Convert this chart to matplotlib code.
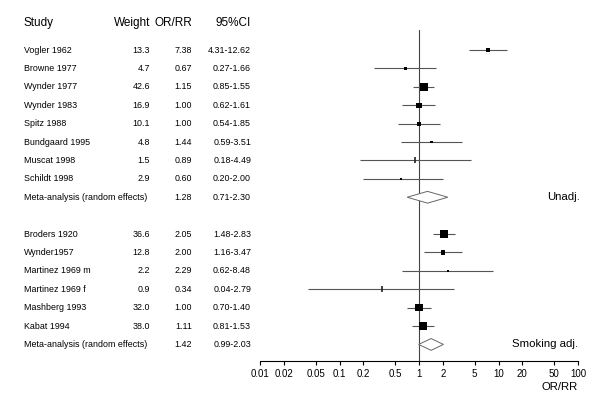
import matplotlib
matplotlib.use("Agg")
import matplotlib.pyplot as plt
from matplotlib.patches import Polygon
from matplotlib.transforms import blended_transform_factory

plt.rcParams["font.family"] = ["Liberation Sans", "DejaVu Sans"]

# ── Data ─────────────────────────────────────────────────────────────────────
studies = ["Vogler 1962", "Browne 1977", "Wynder 1977", "Wynder 1983", "Spitz 1988",
           "Bundgaard 1995", "Muscat 1998", "Schildt 1998",
           "Broders 1920", "Wynder1957", "Martinez 1969 m", "Martinez 1969 f",
           "Mashberg 1993", "Kabat 1994"]
rows = [0, 1, 2, 3, 4, 5, 6, 7, 10, 11, 12, 13, 14, 15]
weights = [13.3, 4.7, 42.6, 16.9, 10.1, 4.8, 1.5, 2.9, 36.6, 12.8, 2.2, 0.9, 32.0, 38.0]
est = [7.38, 0.67, 1.15, 1.00, 1.00, 1.44, 0.89, 0.60, 2.05, 2.00, 2.29, 0.34, 1.00, 1.11]
lo = [4.31, 0.27, 0.85, 0.62, 0.54, 0.59, 0.18, 0.20, 1.48, 1.16, 0.62, 0.04, 0.70, 0.81]
hi = [12.62, 1.66, 1.55, 1.61, 1.85, 3.51, 4.49, 2.00, 2.83, 3.47, 8.48, 2.79, 1.40, 1.53]

meta_rows = [8, 16]
meta_est = [1.28, 1.42]
meta_lo = [0.71, 0.99]
meta_hi = [2.30, 2.03]
meta_tags = ["Unadj.", "Smoking adj."]

xticks = [0.01, 0.02, 0.05, 0.1, 0.2, 0.5, 1, 2, 5, 10, 20, 50, 100]
xtick_labels = ["0.01", "0.02", "0.05", "0.1", "0.2", "0.5", "1", "2", "5", "10", "20", "50", "100"]

# ── Figure ───────────────────────────────────────────────────────────────────
fig = plt.figure(figsize=(6, 4), dpi=100)
ax = fig.add_axes([260 / 600, 39 / 400, 318 / 600, 331 / 400])
ax.set_xscale("log")
ax.set_xlim(0.01, 100)
ax.set_ylim(16.9, -1.09)

for s in ["top", "right", "left"]:
    ax.spines[s].set_visible(False)
ax.spines["bottom"].set_linewidth(0.8)
ax.set_yticks([])
ax.set_xticks(xticks)
ax.set_xticklabels(xtick_labels, fontsize=7)
ax.minorticks_off()
ax.tick_params(axis="x", length=3, width=0.8, pad=3)
ax.set_xlabel("OR/RR", fontsize=8.2, loc="right", labelpad=2)

ax.axvline(1, color="#444444", lw=0.8, zorder=1)

# confidence intervals and weighted squares (tiny weights drawn as a tick)
ax.hlines(rows, lo, hi, color="#555555", lw=0.8, zorder=2)
big = [i for i, w in enumerate(weights) if w >= 2]
tiny = [i for i, w in enumerate(weights) if w < 2]
ax.scatter([est[i] for i in big], [rows[i] for i in big],
           s=[0.85 * weights[i] for i in big], marker="s", color="black",
           linewidths=0, zorder=3)
ax.scatter([est[i] for i in tiny], [rows[i] for i in tiny], s=14, marker="|",
           color="#222222", linewidths=1.2, zorder=3)

# meta-analysis diamonds
h = 0.32
for r, e, l, u in zip(meta_rows, meta_est, meta_lo, meta_hi):
    ax.add_patch(Polygon([(l, r), (e, r - h), (u, r), (e, r + h)], closed=True,
                         facecolor="white", edgecolor="#666666", lw=0.7, zorder=3))

tr = blended_transform_factory(fig.transFigure, ax.transData)
ax.text(547 / 600, meta_rows[0], meta_tags[0], transform=tr,
        fontsize=8.2, ha="left", va="center")
ax.text(578 / 600, meta_rows[1], meta_tags[1], transform=tr,
        fontsize=8.2, ha="right", va="center")

# ── Table columns ────────────────────────────────────────────────────────────
x_study, x_w, x_or, x_ci = 24 / 600, 150 / 600, 192 / 600, 251 / 600
hdr_y = -1.47
fs = 6.4
for x, t, ha in [(x_study, "Study", "left"), (x_w, "Weight", "right"),
                 (x_or, "OR/RR", "right"), (x_ci, "95%CI", "right")]:
    ax.text(x, hdr_y, t, transform=tr, fontsize=8.5, ha=ha, va="center", clip_on=False)

for name, r, w, e, l, u in zip(studies, rows, weights, est, lo, hi):
    ax.text(x_study, r, name, transform=tr, fontsize=fs, ha="left", va="center")
    ax.text(x_w, r, f"{w:.1f}", transform=tr, fontsize=fs, ha="right", va="center")
    ax.text(x_or, r, f"{e:.2f}", transform=tr, fontsize=fs, ha="right", va="center")
    ax.text(x_ci, r, f"{l:.2f}-{u:.2f}", transform=tr, fontsize=fs, ha="right", va="center")

for r, e, l, u in zip(meta_rows, meta_est, meta_lo, meta_hi):
    ax.text(x_study, r, "Meta-analysis (random effects)", transform=tr, fontsize=fs,
            ha="left", va="center")
    ax.text(x_or, r, f"{e:.2f}", transform=tr, fontsize=fs, ha="right", va="center")
    ax.text(x_ci, r, f"{l:.2f}-{u:.2f}", transform=tr, fontsize=fs, ha="right", va="center")

fig.savefig("out.png", dpi=100)
